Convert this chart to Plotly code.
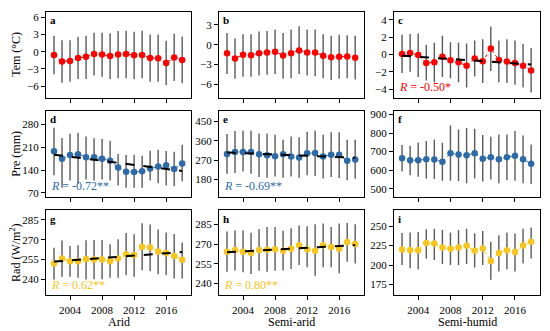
import numpy as np
import plotly.graph_objects as go

years = list(range(2002, 2019))

# Temperature (°C)
tem_arid = [-0.58,-1.7,-1.6,-1.1,-0.9,-0.4,-0.5,-0.75,-0.5,-0.4,-0.63,-0.58,-1.1,-1.15,-1.96,-1.0,-1.44]
tem_arid_hi = [2.77,2.0,2.0,2.6,2.77,3.3,3.3,3.2,3.6,3.63,3.46,3.63,3.0,3.0,1.9,3.1,2.65]
tem_arid_lo = [-3.9,-5.37,-5.2,-4.73,-4.73,-4.15,-4.33,-4.73,-4.6,-4.6,-4.8,-4.6,-5.2,-5.2,-5.77,-5.08,-5.48]
tem_semiarid = [-1.3,-2.1,-1.55,-1.6,-1.3,-1.2,-1.06,-1.65,-1.3,-0.87,-1.2,-1.2,-1.7,-1.93,-1.84,-1.8,-2.0]
tem_semiarid_hi = [1.8,0.97,1.6,1.6,2.0,2.1,2.3,1.8,2.3,2.8,2.3,2.3,1.6,1.35,1.5,1.45,1.35]
tem_semiarid_lo = [-4.45,-5.2,-4.9,-4.9,-4.7,-4.6,-4.45,-5.2,-5.1,-4.45,-4.7,-4.8,-5.1,-5.4,-5.2,-5.1,-5.3]
tem_semihumid = [0.05,0.15,-0.08,-1.0,-0.9,-0.27,-0.67,-0.9,-1.3,-0.47,-0.8,0.67,-0.63,-0.82,-1.0,-1.3,-1.85]
tem_semihumid_hi = [2.27,2.35,2.4,1.1,1.33,2.15,1.4,1.33,1.25,1.6,1.76,3.2,1.6,1.76,1.6,1.2,0.75]
tem_semihumid_lo = [-2.15,-2.0,-2.6,-3.0,-3.2,-2.6,-2.75,-3.2,-3.8,-2.55,-3.3,-1.9,-3.2,-3.3,-3.5,-3.8,-4.4]

# Precipitation (mm)
pre_arid = [197.6,175,186.6,188.7,179.4,179,175,168.8,148,134.8,134,136,145,151,155,143,160]
pre_arid_hi = [270,239,252,255,243,238,236,229.5,189.4,186,187,184,199.4,202.5,199,196.5,218]
pre_arid_lo = [123.5,85,108,98,111,108,111,108,92.6,85,85,85,108,99.6,92.6,89.6,105]
pre_semiarid = [298.8,308,308,308,297,293,288,297,287,282,302,303,287,295,295,267,273]
pre_semiarid_hi = [391,405,406,406,394,394,388,365,380,376,402,406,388,400,400,365,365]
pre_semiarid_lo = [206,210,217,206,191,188,194,188,194,188,199,196,184,191,187,176,183]
pre_semihumid = [664,654,654,659,657,645,691,684,680,691,662,670,659,670,677,659,634]
pre_semihumid_hi = [736,732,748,757,766,748,841,820,827,823,789,780,793,793,811,787,739]
pre_semihumid_lo = [593,573,564,555,552,543,543,541,529,555,538,550,529,546,543,529,525]

# Radiation (W/m2)
rad_arid = [252,255.8,253.8,253.8,255.5,255,255,253.8,255.8,259,258.5,264.6,264.1,261,260,257.7,254.8]
rad_arid_hi = [263.9,269.3,265.3,265.8,269.5,269.8,269.8,266.6,270.3,275,274,282.3,281.5,277.6,275.3,274.3,267.8]
rad_arid_lo = [240,242,242,241.3,240,240.2,240.2,241.3,241.3,243.2,242,247,246.2,244,243.2,240.8,240.8]
rad_semiarid = [264.2,265.5,264.2,263.2,265.5,265.7,266,265,266.5,269,266,265,269,267.7,266.5,271.5,270]
rad_semiarid_hi = [279.5,280.5,280.5,278.5,281.5,283,283,280,282,284,283.5,285,285.5,283,285.5,286,285]
rad_semiarid_lo = [249,250,248.5,247.2,249.7,249,249.7,250,251,254,252.3,246,252.3,252.3,247.8,256.5,255.2]
rad_semihumid = [220,219,219,228.3,227.5,222.5,221,222.5,224.6,218.3,221.2,205.3,215.4,219,216.6,225,230]
rad_semihumid_hi = [241,241.6,242.5,246,246.6,245,241.6,245,246.6,240.8,243.7,230,238.3,241.6,240.4,246.6,248]
rad_semihumid_lo = [200,195.8,194.5,208.2,206.3,201.3,200,200,201.3,196.7,200,181.2,191.7,194.6,191.7,202,208.2]

panel_letters = ["a","b","c","d","e","f","g","h","i"]
r_labels = [None, None, "-0.50*", "-0.72**", "-0.69**", None, "0.62**", "0.80**", None]
zone_names = ["Arid", "Semi-arid", "Semi-humid"]
y_titles = ["Tem (°C)", "Pre (mm)", "Rad (W/m<sup>2</sup>)"]
x_ticks = [2004, 2008, 2012, 2016]
y_ticks = [[6,3,0,-3,-6],[3,0,-3,-6],[4,2,0,-2,-4],
           [280,210,140,70],[450,360,270,180],[900,800,700,600,500],
           [285,270,255,240],[285,270,255,240],[250,225,200,175]]
y_ranges = [[-8.0,6.9],[-8.1,5.0],[-5.0,4.9],
            [58,323],[100,500],[457,921],
            [228,292],[231,295.5],[161,270]]

series = [
    (tem_arid, tem_arid_hi, tem_arid_lo), (tem_semiarid, tem_semiarid_hi, tem_semiarid_lo),
    (tem_semihumid, tem_semihumid_hi, tem_semihumid_lo),
    (pre_arid, pre_arid_hi, pre_arid_lo), (pre_semiarid, pre_semiarid_hi, pre_semiarid_lo),
    (pre_semihumid, pre_semihumid_hi, pre_semihumid_lo),
    (rad_arid, rad_arid_hi, rad_arid_lo), (rad_semiarid, rad_semiarid_hi, rad_semiarid_lo),
    (rad_semihumid, rad_semihumid_hi, rad_semihumid_lo),
]
row_colors = ["#ff0000", "#2e6aa8", "#f7c51e"]

W, H = 550, 331
col_px = [(46, 191), (219, 364), (394, 540)]
row_px = [(10, 97), (110, 197), (211, 297)]
FONT = "Liberation Serif"

fig = go.Figure()
layout = dict(width=W, height=H, margin=dict(l=0, r=0, t=0, b=0),
              paper_bgcolor="white", plot_bgcolor="white", showlegend=False,
              font=dict(family=FONT, size=11, color="black"))
annotations = []

for k in range(9):
    r, c = divmod(k, 3)
    n = k + 1
    xa = "x" if n == 1 else f"x{n}"
    ya = "y" if n == 1 else f"y{n}"
    mean, hi, lo = series[k]
    mean = np.array(mean); hi = np.array(hi); lo = np.array(lo)
    col = row_colors[r]
    fig.add_trace(go.Scatter(
        x=years, y=mean, mode="lines+markers", xaxis=xa, yaxis=ya,
        line=dict(color=col, width=1, dash="dot"),
        marker=dict(color=col, size=6.5),
        error_y=dict(type="data", symmetric=False, array=hi - mean, arrayminus=mean - lo,
                     color="#5a5a5a", thickness=1.4, width=0),
    ))
    if r_labels[k] is not None:
        coef = np.polyfit(years, mean, 1)
        yr = np.array([years[0], years[-1]])
        fig.add_trace(go.Scatter(x=yr, y=np.polyval(coef, yr), mode="lines",
                                 xaxis=xa, yaxis=ya,
                                 line=dict(color="black", width=2, dash="dash")))
        annotations.append(dict(xref=f"{xa} domain", yref=f"{ya} domain", x=0.02, y=0.02,
                                xanchor="left", yanchor="bottom", showarrow=False,
                                text=f"<i>R</i> = {r_labels[k]}",
                                font=dict(family=FONT, size=12, color=col)))
    annotations.append(dict(xref=f"{xa} domain", yref=f"{ya} domain", x=0.015, y=0.995,
                            xanchor="left", yanchor="top", showarrow=False,
                            text=f"<b>{panel_letters[k]}</b>",
                            font=dict(family=FONT, size=11, color="black")))
    x0, x1 = col_px[c]
    y0, y1 = row_px[r]
    axis_common = dict(showline=True, linecolor="black", linewidth=1, mirror=True,
                       ticks="outside", ticklen=4, tickcolor="black", showgrid=False,
                       zeroline=False, tickfont=dict(family=FONT, size=11))
    layout["xaxis" if n == 1 else f"xaxis{n}"] = dict(
        axis_common, domain=[x0 / W, x1 / W], range=[2001, 2019.1],
        tickvals=x_ticks, showticklabels=(r == 2), anchor=ya)
    layout["yaxis" if n == 1 else f"yaxis{n}"] = dict(
        axis_common, domain=[1 - y1 / H, 1 - y0 / H], range=y_ranges[k],
        tickvals=y_ticks[k], anchor=xa)

for r in range(3):
    y0, y1 = row_px[r]
    annotations.append(dict(xref="paper", yref="paper", x=16 / W, y=1 - (y0 + y1) / 2 / H,
                            xanchor="center", yanchor="middle",
                            textangle=-90, showarrow=False, text=y_titles[r],
                            font=dict(family=FONT, size=12)))
for c in range(3):
    x0, x1 = col_px[c]
    annotations.append(dict(xref="paper", yref="paper", x=(x0 + x1) / 2 / W, y=1 - 324 / H,
                            xanchor="center", yanchor="middle",
                            showarrow=False, text=zone_names[c],
                            font=dict(family=FONT, size=12)))

layout["annotations"] = annotations
fig.update_layout(**layout)
fig.write_html("out.html", config={"displayModeBar": False},
               post_script="document.body.style.margin='0';document.body.style.padding='0';")
